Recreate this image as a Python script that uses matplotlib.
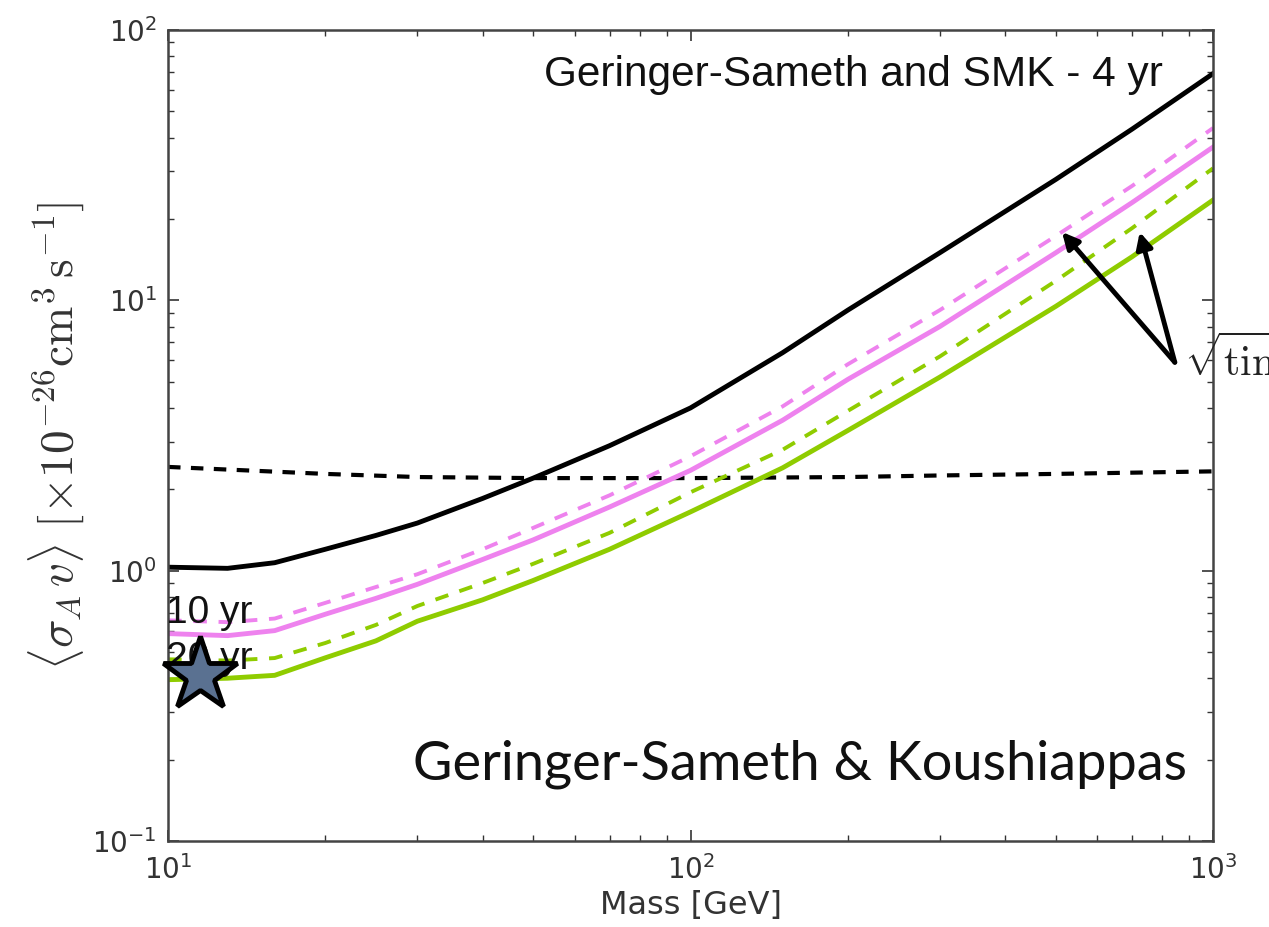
import numpy as np
import matplotlib.pyplot as plt

mass = [10, 13, 16, 20, 25, 30, 40, 50, 70, 100, 150, 200, 300, 500, 700, 1000]

# <sigma v> limits [1e-26 cm^3/s]
gs_4yr = [1.03, 1.02, 1.07, 1.2, 1.35, 1.5, 1.85, 2.2, 2.9, 4.0, 6.4, 9.2, 15, 28, 43, 69]
yr10_solid = [0.585, 0.575, 0.6, 0.69, 0.79, 0.89, 1.1, 1.3, 1.72, 2.35, 3.6, 5.1, 8.0, 15, 23, 36.9]
yr10_dashed = [0.655, 0.645, 0.665, 0.76, 0.87, 0.97, 1.2, 1.44, 1.9, 2.65, 4.05, 5.8, 9.2, 17.3, 26.5, 43.4]
yr20_solid = [0.395, 0.4, 0.41, 0.476, 0.55, 0.65, 0.78, 0.92, 1.2, 1.65, 2.4, 3.3, 5.2, 9.5, 14.5, 23.5]
yr20_dashed = [0.47, 0.465, 0.475, 0.54, 0.63, 0.74, 0.9, 1.06, 1.38, 1.95, 2.8, 3.9, 6.2, 11.8, 18.5, 30.8]

# thermal relic line
relic_mass = [10, 20, 30, 50, 100, 200, 300, 500, 1000]
relic = [2.42, 2.28, 2.22, 2.2, 2.2, 2.22, 2.25, 2.28, 2.33]

star_mass, star_sv = 11.5, 0.41

magenta = '#ee82ee'
green = '#8fcc00'

fig = plt.figure(figsize=(12.69, 9.27), dpi=100)
ax = fig.add_axes([0.1324, 0.0928, 0.8235, 0.8748])

ax.plot(relic_mass, relic, color='k', lw=3, ls=(0, (3, 2.5)))
ax.plot(mass, gs_4yr, color='k', lw=3.5)
ax.plot(mass, yr10_dashed, color=magenta, lw=2.8, ls=(0, (3.5, 3)))
ax.plot(mass, yr10_solid, color=magenta, lw=3.5)
ax.plot(mass, yr20_dashed, color=green, lw=2.8, ls=(0, (3.5, 3)))
ax.plot(mass, yr20_solid, color=green, lw=3.5)

ax.set_xscale('log')
ax.set_yscale('log')
ax.set_xlim(10, 1000)
ax.set_ylim(0.1, 100)

for s in ax.spines.values():
    s.set_linewidth(1.8)
    s.set_color('#444444')
ax.tick_params(which='both', direction='in', top=True, right=True, labelsize=20, colors='#333333')
ax.tick_params(which='major', length=8, width=1.2)
ax.tick_params(which='minor', length=4, width=1)
ax.tick_params(axis='x', pad=10)
ax.tick_params(axis='y', pad=8)

ax.set_xlabel('Mass [GeV]', fontsize=23, color='#333333', labelpad=4)
ax.set_ylabel(r'$\langle \sigma_A\, v \rangle\ [\times 10^{-26} \mathrm{cm}^3\, \mathrm{s}^{-1}]$',
              fontsize=34, color='#333333', math_fontfamily='cm', labelpad=4)

ax.text(0.952, 0.945, 'Geringer-Sameth and SMK - 4 yr', transform=ax.transAxes,
        ha='right', va='center', fontsize=30.5, family='Liberation Sans', color='#111111')
ax.text(0.975, 0.095, 'Geringer-Sameth & Koushiappas', transform=ax.transAxes,
        ha='right', va='center', fontsize=39, family='Lato', color='#111111')

ax.text(9.9, 0.70, '10 yr', ha='left', va='center', fontsize=28,
        family='Liberation Sans', color='#111111', clip_on=False)
ax.text(9.9, 0.47, '20 yr', ha='left', va='center', fontsize=28,
        family='Liberation Sans', color='#111111', clip_on=False)

ax.plot(star_mass, star_sv, marker='*', ms=56, mfc='#5a7191', mec='k', mew=3.5,
        clip_on=False, zorder=5)

for tip in [(514, 17.9), (724, 17.9)]:
    ax.annotate('', xy=tip, xytext=(845, 5.9),
                arrowprops=dict(arrowstyle='-|>', lw=3.5, color='k', mutation_scale=24,
                                shrinkA=0, shrinkB=0))
ax.text(880, 6.0, r'$\sqrt{\mathrm{time}}$', ha='left', va='center', fontsize=30,
        math_fontfamily='cm', color='#222222', clip_on=False)

fig.savefig('out.png', dpi=100)
